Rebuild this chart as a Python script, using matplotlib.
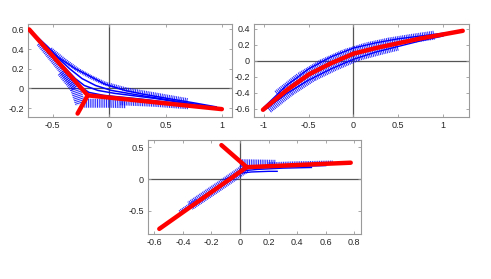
import matplotlib
matplotlib.use("Agg")
import matplotlib.pyplot as plt

plt.rcParams['font.family'] = ['Liberation Sans', 'DejaVu Sans']
plt.rcParams['lines.scale_dashes'] = False

# ---- panel 1 (top left) ----
red1_main_x = [-0.71, -0.19, 1.0]
red1_main_y = [0.60, -0.07, -0.21]
red1_branch_x = [-0.19, -0.28]
red1_branch_y = [-0.07, -0.255]

blue1_curves = [
    ([-0.71, -0.55, -0.45, -0.30, -0.18, -0.04, 0.14, 0.30, 0.51, 0.75, 0.95],
     [0.60, 0.43, 0.315, 0.20, 0.13, 0.045, -0.02, -0.058, -0.10, -0.146, -0.187]),
    ([-0.71, -0.50, -0.35, -0.24, -0.12, 0.02, 0.30, 0.60, 0.95],
     [0.60, 0.36, 0.20, 0.10, 0.03, -0.02, -0.075, -0.13, -0.195]),
    ([-0.71, -0.45, -0.30, -0.22, -0.10, 0.05, 0.40, 0.95],
     [0.60, 0.28, 0.10, 0.03, -0.02, -0.05, -0.10, -0.20]),
    ([-0.71, -0.40, -0.27, -0.18, -0.05, 0.30, 0.95],
     [0.60, 0.20, 0.03, -0.04, -0.07, -0.11, -0.20]),
]
# striped bands: (x, y, width in points)
band1 = [
    ([-0.52, -0.40, -0.28, -0.16, -0.04, 0.15, 0.40, 0.70],
     [0.40, 0.29, 0.19, 0.115, 0.05, -0.01, -0.06, -0.12], 3.0),
    ([-0.62, -0.435, -0.30], [0.46, 0.20, 0.0], 4.5),
    ([-0.42, -0.30, -0.255], [0.17, 0.0, -0.16], 7.5),
    ([-0.22, 0.0, 0.15], [-0.15, -0.15, -0.155], 6.5),
    ([0.10, 0.40, 0.70], [-0.15, -0.165, -0.19], 3.0),
]
xt1 = [-0.5, 0, 0.5, 1]
xl1 = ['-0.5', '0', '0.5', '1']
yt1 = [-0.2, 0, 0.2, 0.4, 0.6]
yl1 = ['-0.2', '0', '0.2', '0.4', '0.6']

# ---- panel 2 (top right) ----
red2_x = [-1.01, -0.75, -0.50, -0.25, 0.0, 0.25, 0.50, 0.75, 1.0, 1.22]
red2_y = [-0.61, -0.37, -0.17, -0.03, 0.09, 0.16, 0.22, 0.28, 0.33, 0.375]
blue2_upper_x = [-1.0, -0.75, -0.50, -0.25, 0.0, 0.25, 0.50, 0.75, 1.0, 1.2]
blue2_upper_y = [-0.58, -0.31, -0.10, 0.05, 0.16, 0.225, 0.275, 0.31, 0.345, 0.37]
blue2_lower_x = [-1.0, -0.75, -0.50, -0.25, 0.0, 0.25, 0.50, 0.75, 1.0]
blue2_lower_y = [-0.62, -0.41, -0.24, -0.10, 0.02, 0.11, 0.18, 0.25, 0.31]
band2 = [
    ([-0.85, -0.6, -0.35, -0.1, 0.15, 0.4, 0.65, 0.9],
     [-0.42, -0.20, -0.035, 0.09, 0.175, 0.235, 0.28, 0.32], 6.5),
    ([-0.95, -0.7, -0.45, -0.2, 0.05, 0.3, 0.5],
     [-0.60, -0.38, -0.20, -0.065, 0.055, 0.13, 0.185], 6.5),
]
xt2 = [-1, -0.5, 0, 0.5, 1]
xl2 = ['-1', '-0.5', '0', '0.5', '1']
yt2 = [-0.6, -0.4, -0.2, 0, 0.2, 0.4]
yl2 = ['-0.6', '-0.4', '-0.2', '0', '0.2', '0.4']

# ---- panel 3 (bottom) ----
red3_main_x = [-0.13, 0.047, 0.775]
red3_main_y = [0.53, 0.185, 0.255]
red3_branch_x = [0.047, -0.565]
red3_branch_y = [0.185, -0.78]
blue3_curves = [
    ([-0.05, 0.03, 0.12, 0.30, 0.50], [0.05, 0.13, 0.15, 0.17, 0.18]),
    ([-0.10, 0.0, 0.08, 0.20, 0.26], [0.0, 0.09, 0.11, 0.12, 0.12]),
    ([0.0, 0.10, 0.30, 0.60], [0.15, 0.17, 0.19, 0.21]),
]
band3 = [
    ([0.0, 0.12, 0.25], [0.25, 0.245, 0.24], 5.5),
    ([0.20, 0.40, 0.65], [0.235, 0.25, 0.262], 2.5),
    ([0.04, -0.15, -0.35], [0.17, -0.12, -0.42], 7.0),
    ([-0.30, -0.42], [-0.34, -0.52], 3.5),
]
xt3 = [-0.6, -0.4, -0.2, 0, 0.2, 0.4, 0.6, 0.8]
xl3 = ['-0.6', '-0.4', '-0.2', '0', '0.2', '0.4', '0.6', '0.8']
yt3 = [-0.5, 0, 0.5]
yl3 = ['-0.5', '0', '0.5']

BLUE = '#0000ff'
RED = '#ff0000'


def style_axes(ax, xlim, ylim, xt, xl, yt, yl):
    ax.set_xlim(xlim)
    ax.set_ylim(ylim)
    ax.set_xticks(xt)
    ax.set_xticklabels(xl)
    ax.set_yticks(yt)
    ax.set_yticklabels(yl)
    ax.tick_params(direction='in', length=2.5, width=0.6, colors='#9a9a9a',
                   labelcolor='#262626', labelsize=6.5, top=True, right=True, pad=3)
    for s in ax.spines.values():
        s.set_color('#9a9a9a')
        s.set_linewidth(0.8)
    ax.axhline(0, color='#555555', lw=0.9, zorder=1)
    ax.axvline(0, color='#555555', lw=0.9, zorder=1)


def draw_bands(ax, bands):
    for bx, by, w in bands:
        ax.plot(bx, by, color=BLUE, lw=w, linestyle=(0, (0.7, 0.6)),
                dash_capstyle='butt', alpha=0.85, zorder=2)


fig = plt.figure(figsize=(4.91, 2.79), dpi=100)

ax1 = fig.add_axes([28 / 491, 1 - 117 / 279, 204 / 491, 93 / 279])
style_axes(ax1, (-0.72, 1.09), (-0.29, 0.655), xt1, xl1, yt1, yl1)
draw_bands(ax1, band1)
for cx, cy in blue1_curves:
    ax1.plot(cx, cy, color=BLUE, lw=1.1, zorder=3)
ax1.plot(red1_main_x, red1_main_y, color=RED, lw=3.2, solid_capstyle='round',
         solid_joinstyle='round', zorder=4)
ax1.plot(red1_branch_x, red1_branch_y, color=RED, lw=3.2, solid_capstyle='round', zorder=4)

ax2 = fig.add_axes([254 / 491, 1 - 117 / 279, 215 / 491, 93 / 279])
style_axes(ax2, (-1.11, 1.29), (-0.70, 0.46), xt2, xl2, yt2, yl2)
draw_bands(ax2, band2)
ax2.plot(blue2_upper_x, blue2_upper_y, color=BLUE, lw=1.0, zorder=3)
ax2.plot(blue2_lower_x, blue2_lower_y, color=BLUE, lw=1.0, zorder=3)
ax2.plot(red2_x, red2_y, color=RED, lw=3.2, solid_capstyle='round', zorder=4)

ax3 = fig.add_axes([148 / 491, 1 - 234 / 279, 213 / 491, 94 / 279])
style_axes(ax3, (-0.644, 0.847), (-0.86, 0.61), xt3, xl3, yt3, yl3)
draw_bands(ax3, band3)
for cx, cy in blue3_curves:
    ax3.plot(cx, cy, color=BLUE, lw=1.0, zorder=3)
ax3.plot(red3_main_x, red3_main_y, color=RED, lw=3.2, solid_capstyle='round',
         solid_joinstyle='round', zorder=4)
ax3.plot(red3_branch_x, red3_branch_y, color=RED, lw=3.2, solid_capstyle='round', zorder=4)

fig.savefig('out.png', dpi=100)
